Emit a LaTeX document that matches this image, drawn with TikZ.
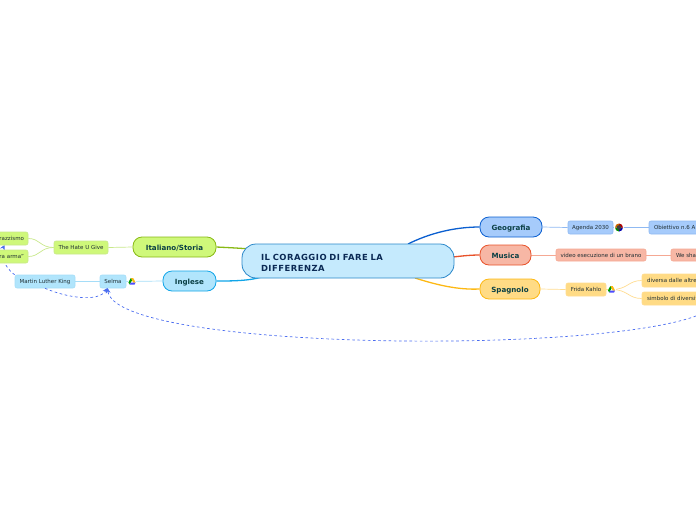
\documentclass[tikz,border=0pt]{standalone}
\usepackage{fontspec}
\setmainfont{DejaVu Sans}
\newfontfamily\widefont[LetterSpace=6]{DejaVu Sans}
\usetikzlibrary{arrows.meta,backgrounds}
\definecolor{txtmain}{HTML}{0B2A55}
\definecolor{txtsub}{HTML}{0B4045}
\definecolor{txtsmall}{HTML}{1F2E33}
\definecolor{cenF}{HTML}{C5EAFD}\definecolor{cenD}{HTML}{2A87C9}
\definecolor{geoF}{HTML}{A6CBFB}\definecolor{geoD}{HTML}{0B5FD0}\definecolor{geoL}{HTML}{8FB9F2}
\definecolor{musF}{HTML}{F7B7A5}\definecolor{musD}{HTML}{E8522A}\definecolor{musL}{HTML}{F5A893}
\definecolor{spaF}{HTML}{FFDB85}\definecolor{spaD}{HTML}{FDB813}\definecolor{spaL}{HTML}{FFDC90}
\definecolor{itaF}{HTML}{CFF87A}\definecolor{itaD}{HTML}{88B914}\definecolor{itaL}{HTML}{C8E88A}
\definecolor{ingF}{HTML}{B1E5FC}\definecolor{ingD}{HTML}{10A5E8}\definecolor{ingL}{HTML}{A5DDF8}
\definecolor{dashc}{HTML}{4A6CF0}
\tikzset{
 central/.style={draw=cenD,fill=cenF,line width=.8pt,rounded corners=14pt,minimum width=212pt,minimum height=34pt,inner sep=0pt,text width=174pt,align=left,font=\widefont\fontsize{8.4}{11}\selectfont\bfseries,text=txtmain},
 mainnode/.style={line width=.8pt,rounded corners=9pt,minimum height=20pt,inner sep=0pt,text height=6.5pt,text depth=0pt,font=\fontsize{7.1}{8}\selectfont\bfseries,text=txtsub},
 subnode/.style={line width=.6pt,rounded corners=2pt,minimum height=13pt,inner sep=0pt,font=\fontsize{5.5}{6}\selectfont,text=txtsmall},
 geo/.style={fill=geoF,draw=geoL},mus/.style={fill=musF,draw=musL},spa/.style={fill=spaF,draw=spaL},ita/.style={fill=itaF,draw=itaL},ing/.style={fill=ingF,draw=ingL},
 thin link/.style={line width=.7pt},
 main link/.style={line width=1.3pt},
 relation/.style={draw=dashc,line width=.7pt,dash pattern=on 2.6pt off 2.6pt,-{Stealth[length=5pt,width=5pt]}},
}
\begin{document}
\begin{tikzpicture}[x=1pt,y=-1pt]
\path[use as bounding box] (0,0) rectangle (696,520);
\clip (0,0) rectangle (696,520);
% main nodes
\node[central] (cen) at (348,261) {\rule{0pt}{10pt}IL CORAGGIO DI FARE LA\\DIFFERENZA};
\node[mainnode,fill=geoF,draw=geoD,minimum width=62pt] (geog) at (511,227) {Geografia};
\node[mainnode,fill=musF,draw=musD,minimum width=51pt] (musi) at (505.5,255) {Musica};
\node[mainnode,fill=spaF,draw=spaD,minimum width=60pt] (spag) at (510,289) {Spagnolo};
\node[mainnode,fill=itaF,draw=itaD,minimum width=83pt] (ital) at (174.5,247) {Italiano/Storia};
\node[mainnode,fill=ingF,draw=ingD,minimum width=53pt] (ingl) at (189.5,281) {Inglese};
% sub nodes
\node[subnode,geo,minimum width=45pt] (agenda) at (590.5,227.5) {Agenda 2030};
\node[subnode,geo,minimum width=70pt,text width=60pt,align=left] (obiet) at (684,227.5) {Obiettivo n.6 A};
\node[subnode,mus,minimum width=90pt,minimum height=12pt] (video) at (601,255) {video esecuzione di un brano};
\node[subnode,mus,minimum width=50pt,minimum height=12pt,text width=40pt,align=left] (wesha) at (696,255) {We sha};
\node[subnode,spa,minimum width=40pt] (frida) at (586,289.5) {Frida Kahlo};
\node[subnode,spa,minimum width=70pt,text width=60pt,align=left] (diversa) at (677,280.5) {diversa dalle altre};
\node[subnode,spa,minimum width=70pt,text width=60pt,align=left] (simbolo) at (677,298.5) {simbolo di diversit};
\node[subnode,ita,minimum width=54pt] (hate) at (81,247.5) {The Hate U Give};
\node[subnode,ita,minimum width=50pt,text width=42pt,align=right] (razz) at (3,238.5) {razzismo};
\node[subnode,ita,minimum width=50pt,text width=42pt,align=right] (arma) at (3,256.5) {ra arma"};
\node[subnode,ing,minimum width=60pt] (mlk) at (45,281.5) {Martin Luther King};
\node[subnode,ing,minimum width=26pt] (selma) at (113,281.5) {Selma};
% icon anchors
\coordinate (iconA) at (619,227.5);
\coordinate (iconF) at (611.5,289.5);
\coordinate (iconS) at (132,281.5);
\coordinate (cg) at (408,244);\coordinate (cm) at (453,257);\coordinate (cs) at (415,278);
\coordinate (ci) at (250,249);\coordinate (ce) at (262,277);
\coordinate (rightin) at (696,316);
\coordinate (selmatip) at (107.5,288);
\coordinate (razztip) at (4.5,245);
\begin{scope}[on background layer]
\draw[main link,draw=geoD] (cg) .. controls (430,233) and (455,227) .. (geog.west);
\draw[main link,draw=musD] (cm) .. controls (462,256) and (470,255) .. (musi.west);
\draw[main link,draw=spaD] (cs) .. controls (437,285) and (458,290) .. (spag.west);
\draw[main link,draw=itaD] (ital.east) .. controls (226,247.5) and (238,248) .. (ci);
\draw[main link,draw=ingD] (ingl.east) .. controls (232,281) and (248,281) .. (ce);
\draw[thin link,draw=geoL] (geog.east) -- (agenda.west);
\draw[thin link,draw=geoL] (agenda.east) -- (obiet.west);
\draw[thin link,draw=musL] (musi.east) -- (video.west);
\draw[thin link,draw=musL] (video.east) -- (wesha.west);
\draw[thin link,draw=spaL] (spag.east) -- (frida.west);
\draw[thin link,draw=spaL] (frida.east) -- (iconF);
\draw[thin link,draw=spaL] (iconF) .. controls (628,289.5) and (628,280.5) .. (diversa.west);
\draw[thin link,draw=spaL] (iconF) .. controls (628,289.5) and (628,298.5) .. (simbolo.west);
\draw[thin link,draw=itaL] (ital.west) -- (hate.east);
\draw[thin link,draw=itaL] (hate.west) .. controls (40,247.5) and (40,238.5) .. (razz.east);
\draw[thin link,draw=itaL] (hate.west) .. controls (40,247.5) and (40,256.5) .. (arma.east);
\draw[thin link,draw=ingL] (ingl.west) -- (selma.east);
\draw[thin link,draw=ingL] (selma.west) -- (mlk.east);
\draw[relation] (mlk.north west) .. controls (10,272) and (-2,258) .. (razztip);
\end{scope}
\draw[relation] (mlk.south) .. controls (65,297) and (98,303) .. (selmatip);
\draw[relation] (rightin) .. controls (590,355) and (115,350) .. (selmatip);
% icons
\foreach \c in {iconF,iconS}{
 \begin{scope}[shift={(\c)}]
  \fill[white] (-4,-4) rectangle (4,4);
  \fill[spaD] (-1.2,-3.5) -- (1.2,-3.5) -- (3.6,1) -- (1.2,1) -- cycle;
  \fill[green!60!black] (-1.2,-3.5) -- (0,-1.2) -- (-2.2,3) -- (-3.6,1) -- cycle;
  \fill[blue!70] (-2.2,3) -- (2.6,3) -- (3.6,1) -- (-1.2,1) -- cycle;
 \end{scope}
}
\begin{scope}[shift={(iconA)}]
 \fill[white] (-5,-5) rectangle (5,5);
 \fill[green!55!black] (0,0) -- (-4,0) arc[start angle=180,end angle=90,radius=4] -- cycle;
 \fill[blue!70!black] (0,0) -- (0,4) arc[start angle=90,end angle=0,radius=4] -- cycle;
 \fill[red!70!black] (0,0) -- (4,0) arc[start angle=0,end angle=-90,radius=4] -- cycle;
 \fill[orange!80!black] (0,0) -- (0,-4) arc[start angle=-90,end angle=-180,radius=4] -- cycle;
 \fill[black!75] (0,0) circle[radius=2.3];
\end{scope}
\end{tikzpicture}
\end{document}
